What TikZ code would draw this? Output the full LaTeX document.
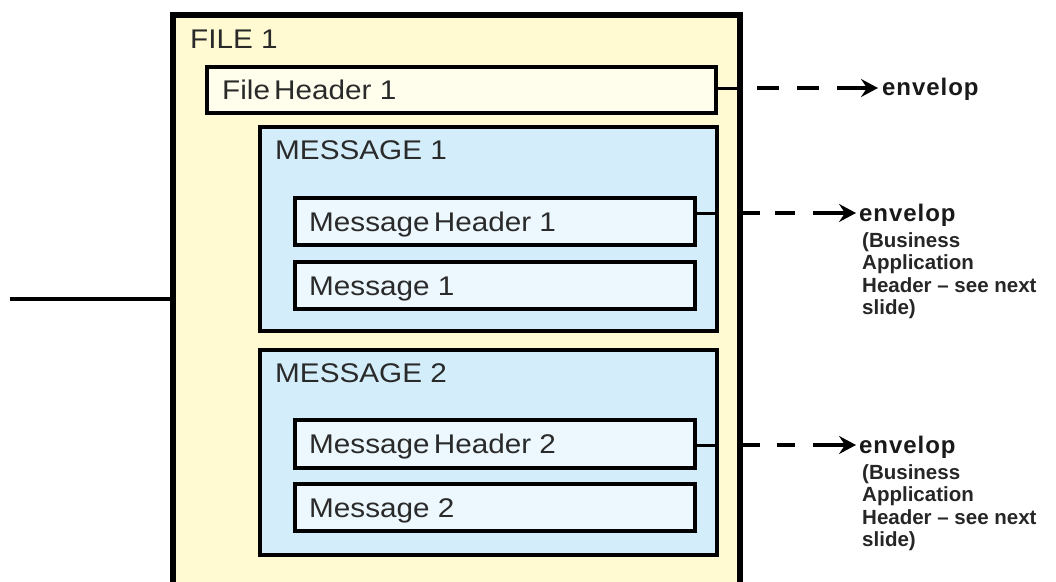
\documentclass[tikz,border=0pt]{standalone}
\usepackage{fontspec}
\setmainfont{Liberation Sans}
\newfontfamily\envfont[LetterSpace=4]{Liberation Sans}
\usepackage{graphicx}
\usetikzlibrary{arrows.meta}
\definecolor{fileyel}{HTML}{FFFAD2}
\definecolor{fhyel}{HTML}{FFFDEB}
\definecolor{msgblue}{HTML}{D3EEFA}
\definecolor{innerblue}{HTML}{ECF8FD}
\definecolor{txt}{HTML}{2A2A2A}
\newcommand{\wtxt}[1]{\scalebox{1.1}[1]{#1}}
\newcommand{\ns}{\hspace{0.14em}}
\tikzset{
  box/.style={draw=black, rectangle, inner sep=0pt, outer sep=0pt},
  filebox/.style={box, fill=fileyel, line width=5.5pt},
  fhbox/.style={box, fill=fhyel, line width=4.5pt},
  msgbox/.style={box, fill=msgblue, line width=4.5pt},
  innerbox/.style={box, fill=innerblue, line width=4.5pt},
  lbl/.style={inner sep=0pt, anchor=base west, text=txt, font=\fontsize{27}{31}\selectfont},
  envlbl/.style={inner sep=0pt, anchor=base west, text=black!90, font=\envfont\bfseries\fontsize{24}{28}\selectfont},
  note/.style={inner sep=0pt, anchor=north west, align=left, text=black!85, font=\bfseries\fontsize{20.5}{22.5}\selectfont},
  conn/.style={line width=3pt},
  dashconn/.style={line width=4pt, -{Stealth[length=17pt,width=18pt,inset=6pt]}},
}
\begin{document}
\begin{tikzpicture}[x=1pt,y=-1pt]
\useasboundingbox (0,0) rectangle (1056,581);
\fill[white] (0,0) rectangle (1056,581);
\clip (0,0) rectangle (1056,581);

% boxes
\node[filebox, minimum width=567pt, minimum height=625pt] (file) at (456.5,327.5) {};
\node[fhbox, minimum width=509pt, minimum height=46pt] (fh) at (461.5,90) {};
\node[msgbox, minimum width=457pt, minimum height=204pt] (msg1) at (488.5,229) {};
\node[innerbox, minimum width=400pt, minimum height=47pt] (mh1) at (495,221.5) {};
\node[innerbox, minimum width=400pt, minimum height=47pt] (m1) at (495,285.5) {};
\node[msgbox, minimum width=457pt, minimum height=205pt] (msg2) at (488.5,452.5) {};
\node[innerbox, minimum width=400pt, minimum height=48pt] (mh2) at (495,444) {};
\node[innerbox, minimum width=400pt, minimum height=47pt] (m2) at (495,507.5) {};

% labels
\node[lbl] (filelbl) at (190,48) {\wtxt{FILE 1}};
\node[lbl] (msg1lbl) at (275,159) {\wtxt{MESSAGE 1}};
\node[lbl] (msg2lbl) at (275,382) {\wtxt{MESSAGE 2}};
\node[lbl] (fhlbl) at ([xshift=15pt,yshift=-9.5pt]fh.west) {\wtxt{File\ns Header 1}};
\node[lbl] (mh1lbl) at ([xshift=14pt,yshift=-9.5pt]mh1.west) {\wtxt{Message\ns Header 1}};
\node[lbl] (m1lbl) at ([xshift=14pt,yshift=-9.5pt]m1.west) {\wtxt{Message 1}};
\node[lbl] (mh2lbl) at ([xshift=14pt,yshift=-9.5pt]mh2.west) {\wtxt{Message\ns Header 2}};
\node[lbl] (m2lbl) at ([xshift=14pt,yshift=-9.5pt]m2.west) {\wtxt{Message 2}};

% left line
\coordinate (lin) at (10,299);
\draw[line width=4pt] (lin) -- (lin -| file.west);

% right side targets
\coordinate (e1) at (878,88);
\coordinate (e2) at (856,213);
\coordinate (e3) at (856,445);
\node[envlbl] (env1) at ([xshift=4pt,yshift=-7pt]e1) {envelop};
\node[envlbl] (env2) at ([xshift=3pt,yshift=-8pt]e2) {envelop};
\node[envlbl] (env3) at ([xshift=3pt,yshift=-8pt]e3) {envelop};
\node[note] (note2) at (862,232) {(Business\\Application\\Header -- see next\\slide)};
\node[note] (note3) at (862,464) {(Business\\Application\\Header -- see next\\slide)};

% connectors
\draw[conn] (e1 -| fh.east) -- (e1 -| file.east);
\draw[dashconn, dash pattern=on 0pt off 17pt on 22pt off 18pt on 22pt off 18pt on 80pt] (e1 -| file.east) -- (e1);
\draw[conn] (e2 -| mh1.east) -- (e2 -| msg1.east);
\draw[dashconn, dash pattern=on 20pt off 15pt on 20pt off 18pt on 80pt] (e2 -| file.east) -- (e2);
\draw[conn] (e3 -| mh2.east) -- (e3 -| msg2.east);
\draw[dashconn, dash pattern=on 20pt off 17pt on 18pt off 18pt on 80pt] (e3 -| file.east) -- (e3);
\end{tikzpicture}
\end{document}
